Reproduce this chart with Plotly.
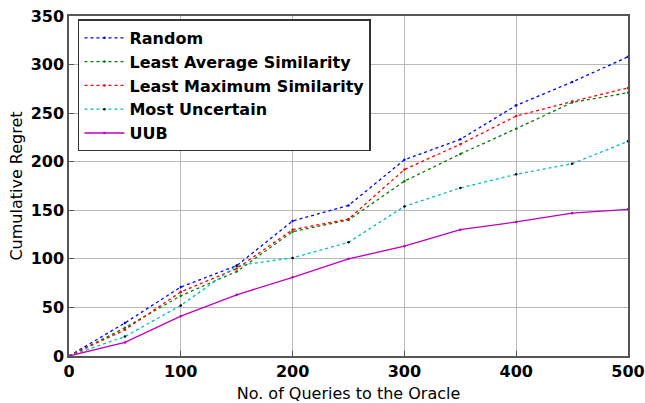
import plotly.graph_objects as go

x_vals = [0, 50, 100, 150, 200, 250, 300, 350, 400, 450, 500]
random_vals = [0, 34, 71, 93, 139, 155, 202, 223, 258, 282, 308]
least_avg_vals = [0, 29, 62, 87, 128, 140, 180, 208, 234, 261, 271]
least_max_vals = [0, 27, 66, 90, 130, 141, 192, 218, 247, 262, 276]
most_unc_vals = [0, 20, 52, 93, 101, 117, 154, 173, 187, 198, 221]
uub_vals = [0, 14, 41, 63, 81, 100, 113, 130, 138, 147, 151]

series = [
    ("Random", random_vals, "#0000ff", "dot", "#0000ff"),
    ("Least Average Similarity", least_avg_vals, "#008000", "dot", "#008000"),
    ("Least Maximum Similarity", least_max_vals, "#ff0000", "dot", "#ff0000"),
    ("Most Uncertain", most_unc_vals, "#00bfbf", "dot", "#000000"),
    ("UUB", uub_vals, "#bf00bf", "solid", "#bf00bf"),
]

fig = go.Figure()
for name, vals, color, dash, mcolor in series:
    fig.add_trace(go.Scatter(
        x=x_vals, y=vals, name=name, mode="lines+markers",
        line=dict(color=color, width=1.3, dash=dash),
        marker=dict(color=mcolor, size=2.5),
    ))

tickfont = dict(family="DejaVu Sans", size=16, color="black", weight="bold")
fig.update_layout(
    width=645, height=403,
    margin=dict(l=69, r=17, t=16, b=47),
    paper_bgcolor="white", plot_bgcolor="white",
    font=dict(family="DejaVu Sans", size=16, color="black"),
    xaxis=dict(
        range=[0, 500], tickvals=[0, 100, 200, 300, 400, 500],
        tickfont=tickfont, automargin=False,
        title=dict(text="No. of Queries to the Oracle", font=dict(size=16), standoff=8),
        showgrid=True, gridcolor="#b8b8b8", gridwidth=1,
        showline=True, linecolor="#555555", linewidth=1.5, mirror=True,
        ticks="inside", ticklen=5, tickcolor="#555555", zeroline=False,
    ),
    yaxis=dict(
        range=[0, 350], tickvals=[0, 50, 100, 150, 200, 250, 300, 350],
        tickfont=tickfont, automargin=False,
        title=dict(text="Cumulative Regret", font=dict(size=16), standoff=4),
        showgrid=True, gridcolor="#b8b8b8", gridwidth=1,
        showline=True, linecolor="#555555", linewidth=1.5, mirror=True,
        ticks="inside", ticklen=5, tickcolor="#555555", zeroline=False,
    ),
    legend=dict(
        x=0.016, y=0.99, xanchor="left", yanchor="top",
        bgcolor="white", bordercolor="#333333", borderwidth=1.5,
        font=dict(family="DejaVu Sans", size=16, color="black", weight="bold"),
        tracegroupgap=0, itemwidth=40,
    ),
)

fig.write_html(
    "out.html",
    config={"displayModeBar": False},
    post_script="document.body.style.margin='0';document.body.style.overflow='hidden';",
)
